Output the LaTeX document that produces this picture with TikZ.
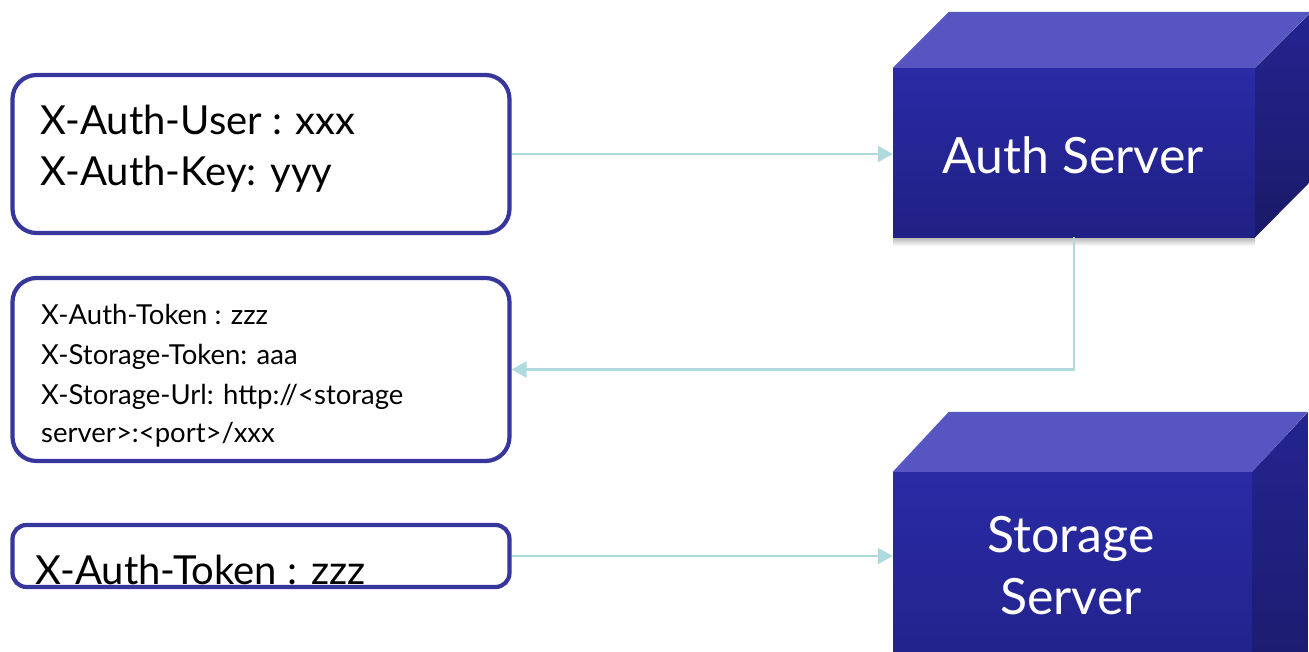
\documentclass[tikz,border=0pt]{standalone}
\usepackage{fontspec}
\setmainfont{Lato}
\usetikzlibrary{arrows.meta}

\definecolor{boxline}{HTML}{36369C}
\definecolor{link}{HTML}{AEDADD}
\definecolor{frontTop}{HTML}{2A2AA6}
\definecolor{frontBot}{HTML}{202084}
\definecolor{topFace}{HTML}{5655C2}
\definecolor{sideTop}{HTML}{242490}
\definecolor{sideBot}{HTML}{1A1A68}

\begin{document}
\begin{tikzpicture}[x=1pt,y=-1pt,
  header/.style={draw=boxline, line width=4.2pt, rounded corners=24pt,
    fill=white, inner sep=0pt},
  headtext/.style={anchor=base west, inner sep=0pt, text=black},
  front/.style={inner sep=0pt, top color=frontTop, bottom color=frontBot},
  srvtext/.style={text=white, font=\fontsize{50}{62}\selectfont, align=center},
  conn/.style={draw=link, line width=2.2pt,
    -{Triangle[length=15pt,width=16pt,fill=link]}},
]
\useasboundingbox (0,0) rectangle (1309,651);
\begin{scope}
\clip (0,0) rectangle (1309,651);

% ---- servers drawn as boxes seen from the front-left ----
% Auth server
\shade[top color=gray!60, bottom color=white] (893,237) rectangle (1255,246);
\node[front, minimum width=362pt, minimum height=169pt] (auth) at (1074,152.5) {};
\fill[topFace] (auth.north west) -- ++(56,-56) -- ++(362,0) -- (auth.north east) -- cycle;
\shade[top color=sideTop, bottom color=sideBot]
  (auth.north east) -- ++(56,-56) -- ++(0,169) -- (auth.south east) -- cycle;
\node[srvtext] (authlbl) at (1073,155) {Auth Server};

% Storage server
\node[front, minimum width=359pt, minimum height=250pt] (stor) at (1072.5,597) {};
\fill[topFace] (stor.north west) -- ++(56,-60) -- ++(359,0) -- (stor.north east) -- cycle;
\shade[top color=sideTop, bottom color=sideBot]
  (stor.north east) -- ++(56,-60) -- ++(0,250) -- (stor.south east) -- cycle;
\node[srvtext] (storlbl) at (1071,566) {Storage\\Server};

% ---- request / response headers ----
\node[header, minimum width=497pt, minimum height=158pt] (cred) at (261,154) {};
\node[headtext, font=\fontsize{40}{50}\selectfont] (credA) at (40,134) {X-Auth-User : xxx};
\node[headtext, font=\fontsize{40}{50}\selectfont] (credB) at (40,185) {X-Auth-Key: yyy};

\node[header, minimum width=497pt, minimum height=183pt] (resp) at (261,369.5) {};
\node[headtext, font=\fontsize{27.5}{40}\selectfont] (respA) at (41,324) {X-Auth-Token : zzz};
\node[headtext, font=\fontsize{27.5}{40}\selectfont] (respB) at (41,364) {X-Storage-Token: aaa};
\node[headtext, font=\fontsize{27.5}{40}\selectfont] (respC) at (41,404) {X-Storage-Url: http://<storage};
\node[headtext, font=\fontsize{27.5}{40}\selectfont] (respD) at (41,442) {server>:<port>/xxx};

\node[header, rounded corners=14pt, minimum width=497pt, minimum height=62pt] (tok) at (261,556) {};
\node[headtext, font=\fontsize{40}{50}\selectfont] (tokA) at (35,584) {X-Auth-Token : zzz};

% ---- connectors ----
\draw[conn] (cred.east) -- (cred.east -| auth.west);
\draw[conn] (auth.south) -- (auth.south |- resp.east) -- (resp.east);
\draw[conn] (tok.east) -- (tok.east -| stor.west);
\end{scope}
\end{tikzpicture}
\end{document}
